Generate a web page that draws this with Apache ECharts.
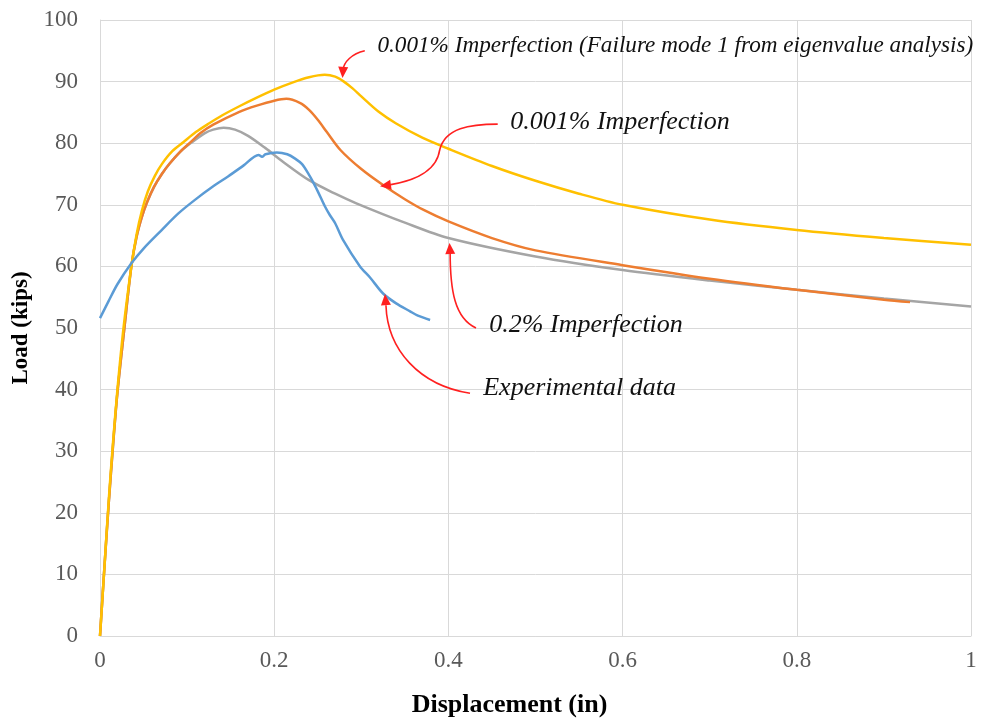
<!DOCTYPE html>
<html>
<head>
<meta charset="utf-8">
<script src="https://cdn.jsdelivr.net/npm/echarts@6/dist/echarts.min.js"></script>
<style>
  html, body { margin: 0; padding: 0; background: #fff; }
  #chart { width: 995px; height: 725px; }
</style>
</head>
<body>
<div id="chart"></div>
<script>
// Load–displacement curves: [displacement (in), load (kips)]
const imperfMode1 = [
  [0, 0], [0.005, 11], [0.01, 22], [0.015, 31.5], [0.02, 40], [0.027, 50],
  [0.036, 60], [0.042, 65.2], [0.048, 69], [0.055, 72.2], [0.063, 74.7],
  [0.071, 76.6], [0.083, 78.7], [0.096, 80.2], [0.11, 81.8], [0.125, 83.2],
  [0.14, 84.5], [0.16, 86], [0.18, 87.4], [0.2, 88.7], [0.22, 89.8],
  [0.24, 90.7], [0.258, 91.1], [0.27, 90.8], [0.28, 90], [0.29, 88.9],
  [0.3, 87.6], [0.32, 85.1], [0.34, 83.2], [0.37, 80.9], [0.4, 79.1],
  [0.45, 76.3], [0.5, 73.9], [0.55, 71.8], [0.6, 70], [0.7, 67.6],
  [0.8, 65.9], [0.9, 64.6], [1.0, 63.5]
];

const imperf0001 = [
  [0, 0], [0.005, 11], [0.01, 21.5], [0.015, 31], [0.02, 39.5], [0.028, 50],
  [0.036, 60], [0.042, 64.8], [0.048, 68], [0.054, 70.4], [0.062, 72.9],
  [0.071, 75], [0.08, 76.7], [0.092, 78.6], [0.105, 80.3], [0.115, 81.6],
  [0.13, 83], [0.16, 85.1], [0.18, 86.1], [0.2, 86.9], [0.214, 87.2],
  [0.23, 86.5], [0.24, 85.4], [0.25, 83.8], [0.26, 81.9], [0.276, 78.9],
  [0.3, 75.8], [0.325, 73.2], [0.35, 70.9], [0.371, 69.2], [0.4, 67.3],
  [0.45, 64.6], [0.5, 62.6], [0.6, 60.2], [0.7, 58], [0.8, 56.2],
  [0.9, 54.6], [0.93, 54.2]
];

const imperf02 = [
  [0, 0], [0.005, 11], [0.01, 21.5], [0.015, 31], [0.02, 39.5], [0.028, 50],
  [0.036, 60], [0.042, 64.8], [0.048, 68], [0.054, 70.4], [0.062, 72.9],
  [0.071, 75], [0.08, 76.7], [0.092, 78.6], [0.105, 80.1], [0.12, 81.6],
  [0.13, 82.2], [0.142, 82.5], [0.155, 82.2], [0.17, 81.2], [0.19, 79.2],
  [0.21, 77], [0.24, 74], [0.27, 71.8], [0.295, 70.2], [0.35, 67.1],
  [0.4, 64.6], [0.5, 61.6], [0.6, 59.4], [0.7, 57.7], [0.8, 56.2],
  [0.9, 54.8], [1.0, 53.5]
];

const experimental = [
  [0, 51.6], [0.01, 54.4], [0.02, 57.1], [0.036, 60.5], [0.05, 62.9],
  [0.0708, 65.9], [0.09, 68.6], [0.109, 70.8], [0.13, 73], [0.147, 74.6],
  [0.165, 76.4], [0.182, 78.1], [0.186, 77.8], [0.19, 78.2], [0.203, 78.5],
  [0.215, 78.2], [0.224, 77.5], [0.232, 76.6], [0.239, 75.1], [0.245, 73.6],
  [0.251, 71.9], [0.258, 69.8], [0.264, 68.3], [0.27, 67], [0.279, 64.3],
  [0.2985, 60], [0.31, 58.2], [0.325, 55.6], [0.34, 54], [0.356, 52.7],
  [0.365, 52], [0.379, 51.3]
];

// Callout labels with curved red arrows, anchored in data coordinates.
// path: chained cubic segments [start, cp1, cp2, end, cp1, cp2, end, ...]
const callouts = [
  {
    text: '0.001% Imperfection (Failure mode 1 from eigenvalue analysis)',
    at: [0.3185, 95.8], size: 23.2,
    path: [[0.304, 95.0], [0.289, 94.5], [0.280, 93.2], [0.279, 91.9]],
    tip: [0.2784, 90.6]
  },
  {
    text: '0.001% Imperfection',
    at: [0.471, 83.4], size: 26,
    path: [[0.4566, 83.1], [0.425, 83.1], [0.396, 82.5], [0.390, 78.9],
           [0.386, 74.8], [0.35, 73.6], [0.331, 73.2]],
    tip: [0.3215, 73.0]
  },
  {
    text: '0.2% Imperfection',
    at: [0.447, 50.4], size: 26,
    path: [[0.4317, 50.0], [0.407, 51.6], [0.402, 56.2], [0.402, 62.3]],
    tip: [0.4013, 63.8]
  },
  {
    text: 'Experimental data',
    at: [0.44, 40.3], size: 26,
    path: [[0.4248, 39.4], [0.367, 40.7], [0.330, 46.4], [0.3283, 53.7]],
    tip: [0.3272, 55.5]
  }
];

const font = 'Liberation Serif';
const chart = echarts.init(document.getElementById('chart'), null, { renderer: 'canvas' });

function lineSeries(name, data, color) {
  return {
    name, type: 'line', data,
    showSymbol: false, smooth: 0.3,
    lineStyle: { color, width: 2.5 },
    itemStyle: { color },
    z: 3
  };
}

chart.setOption({
  animation: false,
  backgroundColor: '#fff',
  grid: { left: 100, right: 24, top: 20, bottom: 89 },
  xAxis: {
    type: 'value', min: 0, max: 1, interval: 0.2,
    name: 'Displacement (in)', nameLocation: 'middle', nameGap: 56,
    nameTextStyle: { fontFamily: font, fontWeight: 'bold', fontSize: 26, color: '#000', padding: [0, 52, 0, 0] },
    axisLine: { show: true, lineStyle: { color: '#d9d9d9', width: 1 } },
    axisTick: { show: false },
    axisLabel: { fontFamily: font, fontSize: 23, color: '#595959', margin: 13,
                 formatter: v => String(+v.toFixed(1)) },
    splitLine: { show: true, lineStyle: { color: '#d9d9d9', width: 1 } }
  },
  yAxis: {
    type: 'value', min: 0, max: 100, interval: 10,
    name: 'Load (kips)', nameLocation: 'middle', nameGap: 51,
    nameTextStyle: { fontFamily: font, fontWeight: 'bold', fontSize: 23, color: '#000' },
    axisLine: { show: true, lineStyle: { color: '#d9d9d9', width: 1 } },
    axisTick: { show: false },
    axisLabel: { fontFamily: font, fontSize: 23, color: '#595959', margin: 22 },
    splitLine: { show: true, lineStyle: { color: '#d9d9d9', width: 1 } }
  },
  series: [
    lineSeries('0.2% Imperfection', imperf02, '#A5A5A5'),
    lineSeries('0.001% Imperfection', imperf0001, '#ED7D31'),
    lineSeries('0.001% Imperfection (Failure mode 1)', imperfMode1, '#FFC000'),
    lineSeries('Experimental data', experimental, '#5B9BD5')
  ]
});

// Build callout graphics from data coordinates.
const px = p => chart.convertToPixel({ gridIndex: 0 }, p);
const red = '#FF2020';
const elements = [];
callouts.forEach(c => {
  const pos = px(c.at);
  elements.push({
    type: 'text', x: pos[0], y: pos[1], z: 10,
    style: {
      text: c.text, fill: '#111', fontFamily: font, fontStyle: 'italic', fontSize: c.size,
      align: 'left', verticalAlign: 'middle'
    }
  });
  const pts = c.path.map(px);
  for (let k = 0; k + 3 < pts.length; k += 3) {
    elements.push({
      type: 'bezierCurve', z: 9, silent: true,
      shape: {
        x1: pts[k][0], y1: pts[k][1],
        cpx1: pts[k + 1][0], cpy1: pts[k + 1][1],
        cpx2: pts[k + 2][0], cpy2: pts[k + 2][1],
        x2: pts[k + 3][0], y2: pts[k + 3][1]
      },
      style: { stroke: red, lineWidth: 1.6, fill: null }
    });
  }
  // arrowhead at the curve's end, pointing at the tip
  const tip = px(c.tip);
  const end = pts[pts.length - 1];
  const dx = tip[0] - end[0], dy = tip[1] - end[1];
  const len = Math.hypot(dx, dy) || 1;
  const ux = dx / len, uy = dy / len;
  const L = 11, W = 5;
  const bx = tip[0] - ux * L, by = tip[1] - uy * L;
  elements.push({
    type: 'polygon', z: 9, silent: true,
    shape: { points: [tip, [bx - uy * W, by + ux * W], [bx + uy * W, by - ux * W]] },
    style: { fill: red }
  });
});
chart.setOption({ graphic: elements });
</script>
</body>
</html>
